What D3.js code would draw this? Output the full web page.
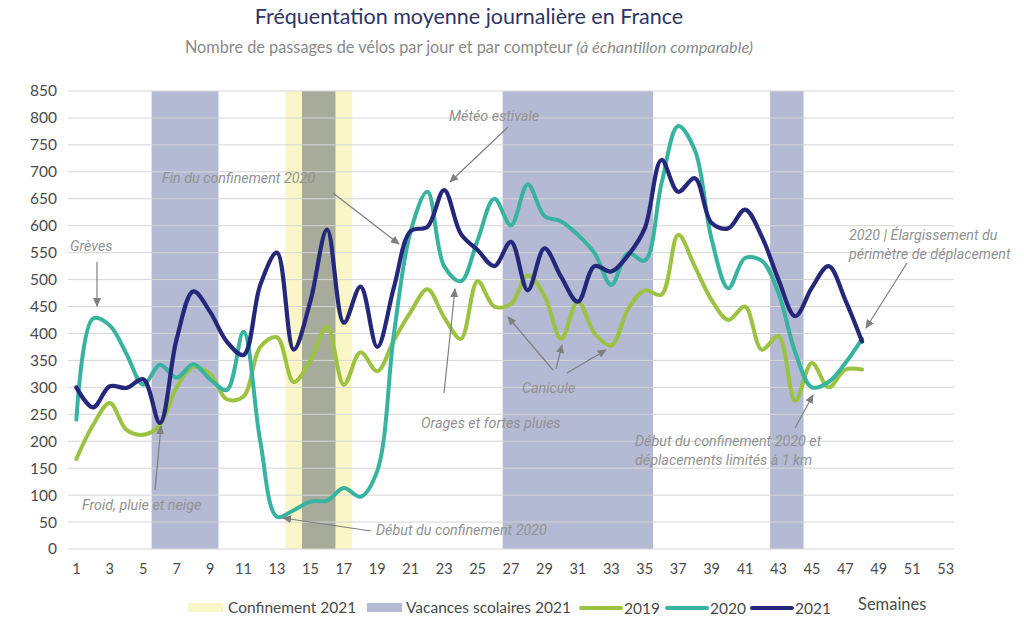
<!DOCTYPE html>
<html><head><meta charset="utf-8">
<script src="https://cdn.jsdelivr.net/npm/d3@7"></script>
<style>
body{margin:0;background:#fff;}
svg{display:block;}
</style></head><body>
<svg id="chart" width="1024" height="630"></svg>
<script>
const weeks = d3.range(1, 54);
const tickWeeks = d3.range(1, 54, 2);
const yTicks = d3.range(0, 851, 50);
const s2019 = [167,230,271,221,212,230,300,338,325,278,283,375,393,310,350,413,305,365,330,388,440,482,430,390,497,450,455,508,470,390,460,400,378,445,480,472,583,524,462,425,450,370,395,275,345,300,333,333];
const s2020 = [240,428,415,362,305,342,318,343,315,295,403,200,60,72,88,90,113,97,145,400,590,663,525,497,573,650,601,677,618,608,583,549,490,549,535,678,785,740,575,484,540,535,475,365,300,310,345,390];
const s2021 = [300,263,302,299,315,234,390,478,440,385,360,490,550,370,460,593,420,487,375,486,590,598,666,585,555,525,570,480,558,505,459,525,515,545,595,722,663,688,605,595,630,580,500,432,485,525,462,385];
const confinement = [[14,17]];
const vacances = [[6,9],[15,16],[27,35],[43,44]];
const seriesNames = ["2019","2020","2021"];
const seriesColors = ["#9bc240","#37b3a0","#25287a"];
const annotations = [
  {lines:["Grèves"], x:70, y:251, from:[97,262], to:[97,306]},
  {lines:["Fin du confinement 2020"], x:162, y:183, from:[333,193], to:[399,244]},
  {lines:["Météo estivale"], x:449, y:121, from:[508,127], to:[450,182]},
  {lines:["2020 | Élargissement du","périmètre de déplacement"], x:849, y:240, from:[907,263], to:[866,328]},
  {lines:["Orages et fortes pluies"], x:421, y:428, from:[444,393], to:[455,289]},
  {lines:["Canicule"], x:522, y:393, from:[553,370], to:[508,317], extra:[[[556,369],[562,345]],[[567,373],[606,350]]]},
  {lines:["Début du confinement 2020"], x:376, y:535, from:[371,531], to:[283,518]},
  {lines:["Début du confinement 2020 et","déplacements limités à 1 km"], x:635, y:446, from:[795,428], to:[813,395]},
  {lines:["Froid, pluie et neige"], x:82, y:510, from:[155,490], to:[161,426]}
];

const svg = d3.select("#chart");
const x = d3.scaleBand().domain(weeks).range([68, 954]).padding(0);
const y = d3.scaleLinear().domain([0, 850]).range([549, 91]);
const xc = w => x(w) + x.bandwidth() / 2;

const defs = svg.append("defs");
defs.append("marker").attr("id","arr").attr("viewBox","0 0 10 10").attr("refX",9).attr("refY",5)
  .attr("markerWidth",9).attr("markerHeight",9).attr("markerUnits","userSpaceOnUse").attr("orient","auto")
  .append("path").attr("d","M0,0.5L10,5L0,9.5Z").attr("fill","#7f7f7f");

// bands
const gb = svg.append("g");
confinement.forEach(([a,b]) => {
  gb.append("rect").attr("x", x(a)).attr("width", x(b) + x.bandwidth() - x(a))
    .attr("y", y(850)).attr("height", y(0) - y(850)).attr("fill", "#faf6c8");
});
vacances.forEach(([a,b]) => {
  const overlap = confinement.some(([c,d]) => a >= c && b <= d);
  gb.append("rect").attr("x", x(a)).attr("width", x(b) + x.bandwidth() - x(a))
    .attr("y", y(850)).attr("height", y(0) - y(850)).attr("fill", overlap ? "#a7ab9c" : "#b4b9d4");
});

// gridlines
svg.append("g").selectAll("line").data(yTicks).join("line")
  .attr("x1", 68).attr("x2", 954).attr("y1", d => y(d)).attr("y2", d => y(d))
  .attr("stroke", "#d6d6d6").attr("stroke-width", 1);

// axes
const yAxis = svg.append("g").attr("transform","translate(57,0)")
  .call(d3.axisLeft(y).tickValues(yTicks).tickSize(0).tickPadding(0));
yAxis.select(".domain").remove();
yAxis.selectAll("text").attr("font-family","Lato, sans-serif").attr("font-size",15.5).attr("fill","#4a4a4a");

const xAxis = svg.append("g").attr("transform","translate(0,560)")
  .call(d3.axisBottom(x).tickValues(tickWeeks).tickSize(0).tickPadding(4));
xAxis.select(".domain").remove();
xAxis.selectAll("text").attr("font-family","Lato, sans-serif").attr("font-size",14.5).attr("fill","#4a4a4a");

// lines
const line = d3.line().x((d,i) => xc(i + 1)).y(d => y(d)).curve(d3.curveCatmullRom.alpha(0.5));
[s2019, s2020, s2021].forEach((s, i) => {
  svg.append("path").datum(s).attr("d", line).attr("fill","none")
    .attr("stroke", seriesColors[i]).attr("stroke-width", i === 2 ? 4.2 : 4)
    .attr("stroke-linejoin","round").attr("stroke-linecap","round");
});

// annotations
const ga = svg.append("g");
annotations.forEach(a => {
  const t = ga.append("text").attr("x", a.x).attr("y", a.y)
    .attr("font-family","Roboto, sans-serif").attr("font-style","italic").attr("font-size",14.3)
    .attr("fill","#929292");
  a.lines.forEach((l, i) => t.append("tspan").attr("x", a.x).attr("dy", i === 0 ? 0 : 19).text(l));
  const segs = [[a.from, a.to]].concat(a.extra || []);
  segs.forEach(([f, to]) => {
    ga.append("line").attr("x1", f[0]).attr("y1", f[1]).attr("x2", to[0]).attr("y2", to[1])
      .attr("stroke","#7f7f7f").attr("stroke-width",1.2).attr("marker-end","url(#arr)");
  });
});

// title
svg.append("text").attr("x", 469).attr("y", 24).attr("text-anchor","middle")
  .attr("font-family","Lato, sans-serif").attr("font-size",21.5).attr("fill","#2e3565")
  .text("Fréquentation moyenne journalière en France");
const sub = svg.append("text").attr("x", 469).attr("y", 53).attr("text-anchor","middle")
  .attr("font-family","Lato, sans-serif").attr("font-size",16.3).attr("fill","#8a8a8a");
sub.append("tspan").text("Nombre de passages de vélos par jour et par compteur ");
sub.append("tspan").attr("font-style","italic").text("(à échantillon comparable)");

// legend
const lg = svg.append("g").attr("font-family","Lato, sans-serif").attr("font-size",15.5).attr("fill","#4a4a4a");
lg.append("rect").attr("x",188).attr("y",603).attr("width",35).attr("height",9).attr("fill","#faf6c8");
lg.append("text").attr("x",228).attr("y",613).text("Confinement 2021");
lg.append("rect").attr("x",367).attr("y",603).attr("width",35).attr("height",9).attr("fill","#b4b9d4");
lg.append("text").attr("x",406).attr("y",613).text("Vacances scolaires 2021");
const legX = [581, 667, 752];
seriesNames.forEach((n, i) => {
  lg.append("line").attr("x1", legX[i]).attr("x2", legX[i] + 40).attr("y1", 608).attr("y2", 608)
    .attr("stroke", seriesColors[i]).attr("stroke-width", 4).attr("stroke-linecap","round");
  lg.append("text").attr("x", legX[i] + 43).attr("y", 614).text(n);
});
lg.append("text").attr("x", 858).attr("y", 610).attr("font-size",16.5).text("Semaines");
</script>
</body></html>
